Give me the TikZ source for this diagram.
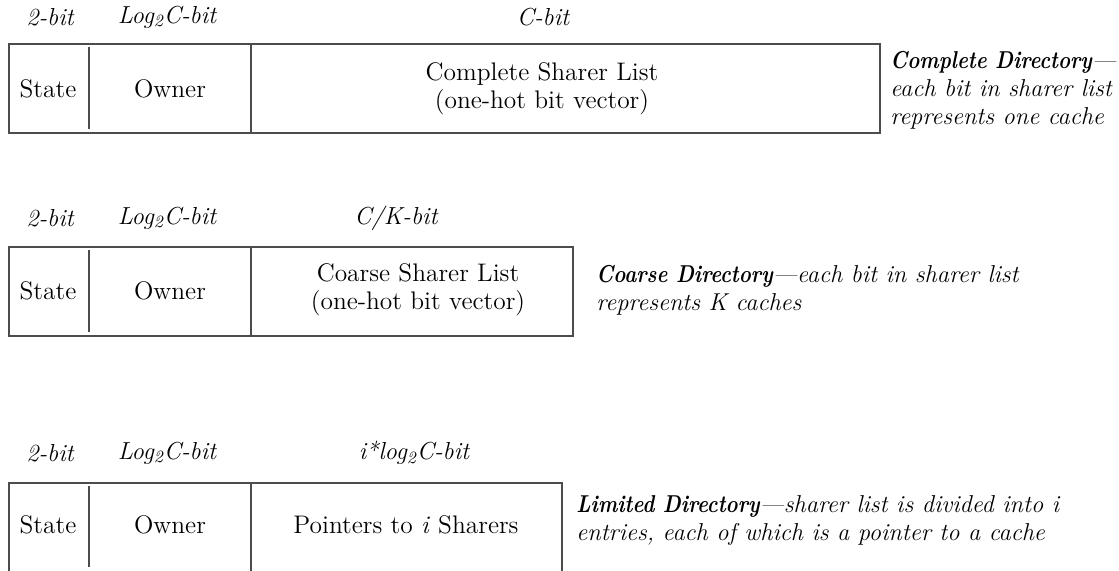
\documentclass[tikz,border=0pt]{standalone}
\usepackage{fontspec}
\usepackage{graphicx}
\begin{document}
\begin{tikzpicture}[x=0.5pt,y=-0.5pt,
  box/.style={draw=black!70,line width=0.75pt},
  lbl/.style={font=\fontsize{12.3}{15}\selectfont\rmfamily\itshape,inner sep=0pt},
  fld/.style={font=\fontsize{12.7}{14}\selectfont\rmfamily,align=center,inner sep=0pt},
  desc/.style={font=\fontsize{12.2}{14}\selectfont\rmfamily\itshape,align=left,anchor=west,inner sep=0pt}]
\newcommand{\hdtxt}[1]{\scalebox{0.84}[1]{\bfseries #1}}
\useasboundingbox (0,0) rectangle (1119,571);

% ---- Row 1: complete directory
\node[lbl] (l1a) at (50,17) {2-bit};
\node[lbl] (l1b) at (167,17) {Log\textsubscript{2}C-bit};
\node[lbl] (l1c) at (543,17) {C-bit};
\draw[box] (9,44) rectangle (880,133);
\draw[box] (89,47) -- (89,129);
\draw[box] (251,44) -- (251,133);
\node[fld] (s1) at (48,88.5) {State};
\node[fld] (o1) at (170,88.5) {Owner};
\node[fld] (c1) at (542,88.5) {Complete Sharer List\\(one-hot bit vector)};
\node[desc] (d1) at (890,90) {\hdtxt{Complete Directory}—\\each bit in sharer list\\represents one cache};

% ---- Row 2: coarse directory
\node[lbl] (l2a) at (50,218) {2-bit};
\node[lbl] (l2b) at (167,218) {Log\textsubscript{2}C-bit};
\node[lbl] (l2c) at (396,218) {C/K-bit};
\draw[box] (9,247) rectangle (573,336);
\draw[box] (89,250) -- (89,332);
\draw[box] (251,247) -- (251,336);
\node[fld] (s2) at (48,291) {State};
\node[fld] (o2) at (170,291) {Owner};
\node[fld] (c2) at (418,290) {Coarse Sharer List\\(one-hot bit vector)};
\node[desc] (d2) at (596,290) {\hdtxt{Coarse Directory}—each bit in sharer list\\represents K caches};

% ---- Row 3: limited directory
\node[lbl] (l3a) at (50,453) {2-bit};
\node[lbl] (l3b) at (167,453) {Log\textsubscript{2}C-bit};
\node[lbl] (l3c) at (414,453) {i*log\textsubscript{2}C-bit};
\draw[box] (9,575) -- (9,483) -- (562,483) -- (562,575);
\draw[box] (89,486) -- (89,567);
\draw[box] (251,483) -- (251,575);
\node[fld] (s3) at (48,525) {State};
\node[fld] (o3) at (170,525) {Owner};
\node[fld] (c3) at (406,525) {Pointers to \textit{i} Sharers};
\node[desc] (d3) at (576,521) {\hdtxt{Limited Directory}—sharer list is divided into i\\entries, each of which is a pointer to a cache};
\end{tikzpicture}
\end{document}
